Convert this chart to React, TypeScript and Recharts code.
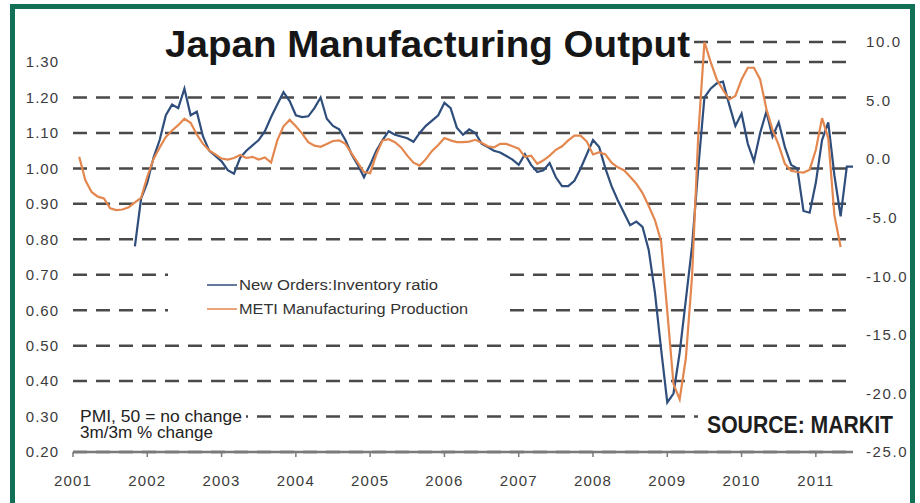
import React from 'react';
import { LineChart, Line, XAxis, YAxis, CartesianGrid } from 'recharts';

const FONT = '"Liberation Sans", Arial, Helvetica, sans-serif';

const yearLabels = ['2001', '2002', '2003', '2004', '2005', '2006', '2007', '2008', '2009', '2010', '2011'];
const monthTicks = [0, 12, 24, 36, 48, 60, 72, 84, 96, 108, 120];
const leftTicks = [0.2, 0.3, 0.4, 0.5, 0.6, 0.7, 0.8, 0.9, 1.0, 1.1, 1.2, 1.3];
const rightTicks = [-25, -20, -15, -10, -5, 0, 5, 10];

// New Orders:Inventory ratio (left axis), monthly from Nov 2001 (month index 10)
const ratioStartMonth = 10;
const newOrdersInventoryRatio = [
  0.78, 0.915, 0.96, 1.03, 1.08, 1.15, 1.18, 1.17, 1.225, 1.15,
  1.16, 1.09, 1.05, 1.035, 1.02, 0.995, 0.985, 1.03, 1.05, 1.065,
  1.08, 1.105, 1.145, 1.18, 1.215, 1.19, 1.15, 1.145, 1.147, 1.17,
  1.2, 1.14, 1.12, 1.11, 1.08, 1.04, 1.01, 0.975, 1.01, 1.05,
  1.08, 1.105, 1.095, 1.09, 1.085, 1.075, 1.1, 1.12, 1.135, 1.15,
  1.185, 1.17, 1.115, 1.095, 1.11, 1.1, 1.07, 1.06, 1.05, 1.045,
  1.035, 1.025, 1.01, 1.04, 1.01, 0.99, 0.995, 1.015, 0.975, 0.95,
  0.95, 0.965, 1.0, 1.04, 1.08, 1.06, 1.0, 0.95, 0.91, 0.875,
  0.84, 0.85, 0.835, 0.77, 0.65, 0.49, 0.34, 0.365, 0.48, 0.63,
  0.78, 1.0, 1.2, 1.225, 1.24, 1.245, 1.18, 1.12, 1.155, 1.07,
  1.02, 1.1, 1.16, 1.09, 1.13, 1.06, 1.01, 1.0, 0.88, 0.875,
  0.96, 1.08, 1.13, 0.98, 0.865, 1.005, 1.005,
];

// METI Manufacturing Production, 3m/3m % change (right axis), monthly from Feb 2001 (month index 1)
const productionStartMonth = 1;
const metiProduction = [
  0.2, -1.8, -2.8, -3.2, -3.35, -4.2, -4.35, -4.3, -4.1, -3.7,
  -3.3, -1.5, 0.0, 1.0, 1.9, 2.45, 2.9, 3.45, 3.1, 2.1,
  1.3, 0.75, 0.4, 0.05, -0.04, 0.1, 0.35, 0.1, 0.2, -0.04,
  0.15, -0.3, 1.6, 2.8, 3.35, 2.8, 2.2, 1.45, 1.15, 1.05,
  1.3, 1.55, 1.6, 1.3, 0.5, -0.3, -1.1, -1.2, 0.4, 1.6,
  1.7, 1.45, 1.0, 0.3, -0.3, -0.55, 0.0, 0.7, 1.2, 1.8,
  1.6, 1.45, 1.45, 1.5, 1.65, 1.4, 1.1, 1.0, 1.3, 1.3,
  1.1, 0.9, 0.2, 0.3, -0.4, -0.1, 0.3, 0.8, 1.1, 1.6,
  2.0, 2.0, 1.5, 0.4, 0.6, 0.4, -0.3, -0.7, -0.95, -1.5,
  -2.1, -2.9, -4.0, -5.2, -7.0, -13.0, -19.2, -20.5, -17.0, -10.0,
  2.0, 10.0, 8.3, 6.8, 5.9, 5.1, 5.4, 6.8, 7.8, 7.8,
  6.8, 4.3, 2.5, 1.2, -0.4, -1.0, -1.1, -1.15, -0.9, 0.8,
  3.5, 1.8, -4.8, -7.5,
];

const seriesNames = ['New Orders:Inventory ratio', 'METI Manufacturing Production'];
const noteLines = ['PMI, 50 = no change', '3m/3m % change'];
const titleText = 'Japan Manufacturing Output';
const sourceText = 'SOURCE: MARKIT';

const BLUE = '#2f4e7c';
const ORANGE = '#e3874f';

const data = Array.from({ length: 127 }, (_, m) => {
  const bi = m - ratioStartMonth;
  const oi = m - productionStartMonth;
  return {
    m,
    ratio: bi >= 0 && bi < newOrdersInventoryRatio.length ? newOrdersInventoryRatio[bi] : null,
    production: oi >= 0 && oi < metiProduction.length ? metiProduction[oi] : null,
  };
});

export default function App() {
  return (
    <div style={{ position: 'absolute', left: 0, top: 0, width: 920, height: 503, background: '#fff', overflow: 'hidden' }}>
      <LineChart width={920} height={503} data={data} margin={{ top: 42, right: 0, bottom: 21, left: 0 }}>
        <CartesianGrid
          yAxisId="left"
          vertical={false}
          stroke="#4a4a4a"
          strokeWidth={2.5}
          strokeDasharray="14 9"
        />
        <XAxis
          dataKey="m"
          type="number"
          domain={[0, 126]}
          ticks={monthTicks}
          interval={0}
          allowDataOverflow
          tickFormatter={(v: number) => yearLabels[Math.round(v / 12)]}
          height={30}
          tickSize={5}
          tickMargin={18}
          axisLine={{ stroke: '#7a7a7a', strokeWidth: 2.5 }}
          tickLine={{ stroke: '#7a7a7a', strokeWidth: 1.5 }}
          tick={{ fontSize: 15, fill: '#3c3c3c', fontFamily: FONT, letterSpacing: 1.2 }}
        />
        <YAxis
          yAxisId="left"
          width={73}
          domain={[0.2, 1.3566]}
          ticks={leftTicks}
          interval={0}
          allowDataOverflow
          axisLine={false}
          tickLine={false}
          tickSize={0}
          tickMargin={14}
          tickFormatter={(v: number) => v.toFixed(2)}
          tick={{ fontSize: 15, fill: '#3c3c3c', fontFamily: FONT, letterSpacing: 1 }}
        />
        <YAxis
          yAxisId="right"
          orientation="right"
          width={67}
          domain={[-25, 10]}
          ticks={rightTicks}
          interval={0}
          allowDataOverflow
          axisLine={false}
          tickLine={false}
          tickSize={0}
          tickMargin={13}
          tickFormatter={(v: number) => v.toFixed(1)}
          tick={{ fontSize: 15, fill: '#3c3c3c', fontFamily: FONT, letterSpacing: 1.6 }}
        />
        <Line
          yAxisId="left"
          type="linear"
          dataKey="ratio"
          stroke={BLUE}
          strokeWidth={2.2}
          dot={false}
          activeDot={false}
          connectNulls={false}
          isAnimationActive={false}
        />
        <Line
          yAxisId="right"
          type="linear"
          dataKey="production"
          stroke={ORANGE}
          strokeWidth={2.2}
          dot={false}
          activeDot={false}
          connectNulls={false}
          isAnimationActive={false}
        />
      </LineChart>
      <svg
        width={920}
        height={503}
        style={{ position: 'absolute', left: 0, top: 0, pointerEvents: 'none' }}
        fontFamily={FONT}
      >
        <rect x={12.5} y={6.5} width={900} height={530} fill="none" stroke="#127057" strokeWidth={5} />
        <rect x={66} y={20} width={626} height={52} fill="#fff" />
        <text x={165} y={57} fontSize={37} fontWeight="bold" fill="#161616" textLength={525} lengthAdjust="spacingAndGlyphs">
          {titleText}
        </text>
        <rect x={168} y={263} width={334} height={60} fill="#fff" />
        <line x1={207} x2={237} y1={285} y2={285} stroke={BLUE} strokeWidth={1.5} />
        <text x={239} y={290} fontSize={14} fill="#333" textLength={199} lengthAdjust="spacingAndGlyphs">
          {seriesNames[0]}
        </text>
        <line x1={207} x2={237} y1={309} y2={309} stroke={ORANGE} strokeWidth={1.5} />
        <text x={239} y={314} fontSize={14} fill="#333" textLength={229} lengthAdjust="spacingAndGlyphs">
          {seriesNames[1]}
        </text>
        <rect x={66} y={404} width={180} height={38} fill="#fff" />
        <text x={80} y={422} fontSize={16} fill="#222" textLength={162} lengthAdjust="spacingAndGlyphs">
          {noteLines[0]}
        </text>
        <text x={80} y={438} fontSize={16} fill="#222" textLength={133} lengthAdjust="spacingAndGlyphs">
          {noteLines[1]}
        </text>
        <rect x={698} y={404} width={156} height={38} fill="#fff" />
        <text x={707} y={433} fontSize={24} fontWeight="bold" fill="#1e1e1e" textLength={186} lengthAdjust="spacingAndGlyphs">
          {sourceText}
        </text>
      </svg>
    </div>
  );
}
